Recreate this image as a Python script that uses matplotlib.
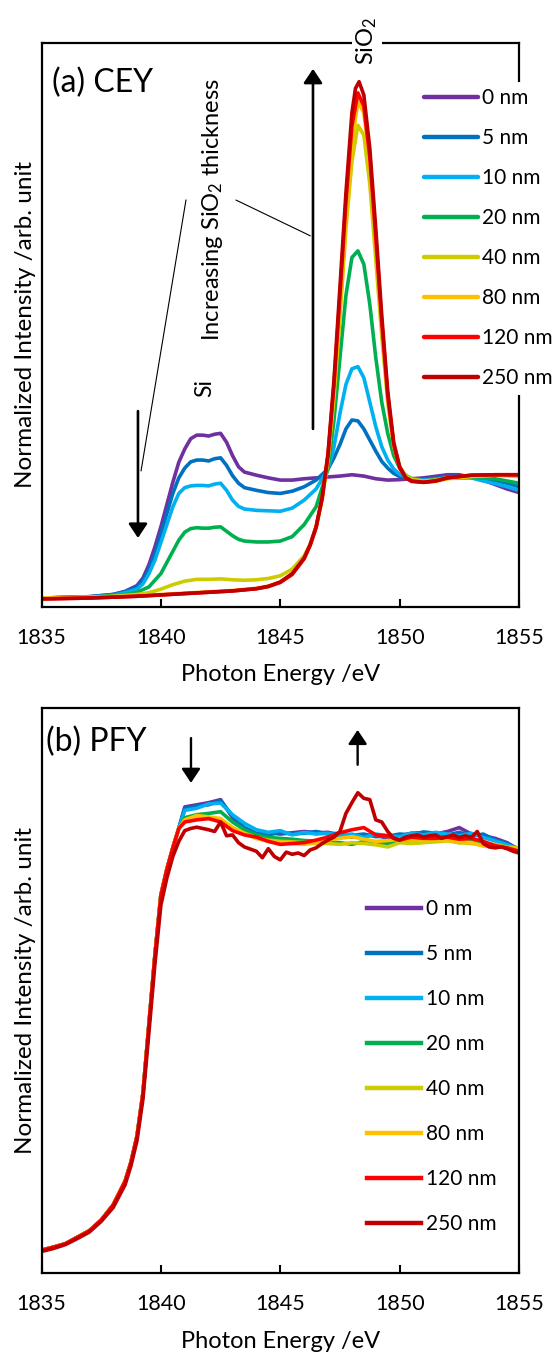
import numpy as np
import matplotlib
matplotlib.use("Agg")
import matplotlib.pyplot as plt

plt.rcParams["font.family"] = ["Lato", "DejaVu Sans"]
plt.rcParams["mathtext.fontset"] = "custom"
plt.rcParams["mathtext.rm"] = "Lato"
plt.rcParams["mathtext.it"] = "Lato:italic"

LABELS = ["0 nm", "5 nm", "10 nm", "20 nm", "40 nm", "80 nm", "120 nm", "250 nm"]
COLORS = ["#7030a0", "#0070c0", "#00b0f0", "#00b050", "#cccc00", "#ffc000", "#ff0000", "#c00000"]

XTICKS = [1835, 1840, 1845, 1850, 1855]

# ---- (a) CEY spectra: (energy, intensity) pairs per thickness ----
CEY_0 = [
    (1835, 0.020), (1837, 0.023), (1838, 0.028), (1838.5, 0.035), (1839, 0.048), (1839.25, 0.065),
    (1839.5, 0.095), (1839.75, 0.135), (1840, 0.180), (1840.25, 0.230), (1840.5, 0.280),
    (1840.75, 0.325), (1841, 0.355), (1841.25, 0.378), (1841.5, 0.386), (1841.75, 0.386),
    (1842, 0.384), (1842.25, 0.388), (1842.5, 0.390), (1842.75, 0.370), (1843, 0.340),
    (1843.25, 0.315), (1843.5, 0.303), (1844, 0.296), (1844.5, 0.290), (1845, 0.285),
    (1845.5, 0.285), (1846, 0.288), (1846.5, 0.290), (1847, 0.292), (1847.5, 0.294),
    (1848, 0.297), (1848.5, 0.294), (1849, 0.288), (1849.5, 0.285), (1850, 0.286),
    (1850.5, 0.288), (1851, 0.290), (1852, 0.297), (1852.5, 0.297), (1853, 0.291),
    (1853.5, 0.285), (1854, 0.275), (1854.5, 0.265), (1855, 0.257),
]
CEY_5 = [
    (1835, 0.020), (1837, 0.023), (1838, 0.028), (1838.5, 0.034), (1839, 0.045), (1839.25, 0.060),
    (1839.5, 0.085), (1839.75, 0.120), (1840, 0.165), (1840.25, 0.210), (1840.5, 0.255),
    (1840.75, 0.290), (1841, 0.312), (1841.25, 0.326), (1841.5, 0.330), (1841.75, 0.330),
    (1842, 0.328), (1842.25, 0.333), (1842.5, 0.335), (1842.75, 0.318), (1843, 0.295),
    (1843.25, 0.278), (1843.5, 0.268), (1844, 0.262), (1844.5, 0.257), (1845, 0.255),
    (1845.5, 0.260), (1846, 0.270), (1846.5, 0.285), (1847, 0.310), (1847.25, 0.335),
    (1847.5, 0.365), (1847.75, 0.400), (1848, 0.420), (1848.25, 0.418), (1848.5, 0.400),
    (1848.75, 0.375), (1849, 0.350), (1849.25, 0.327), (1849.5, 0.312), (1849.75, 0.300),
    (1850, 0.293), (1850.5, 0.287), (1851, 0.286), (1851.5, 0.289), (1852, 0.293),
    (1853, 0.293), (1853.5, 0.290), (1854, 0.284), (1854.5, 0.278), (1855, 0.270),
]
CEY_10 = [
    (1835, 0.020), (1837, 0.022), (1838, 0.026), (1838.5, 0.032), (1839, 0.040), (1839.25, 0.052),
    (1839.5, 0.075), (1839.75, 0.105), (1840, 0.145), (1840.25, 0.185), (1840.5, 0.225),
    (1840.75, 0.255), (1841, 0.268), (1841.25, 0.272), (1841.5, 0.273), (1841.75, 0.273),
    (1842, 0.272), (1842.25, 0.276), (1842.5, 0.278), (1842.75, 0.262), (1843, 0.240),
    (1843.25, 0.226), (1843.5, 0.220), (1844, 0.217), (1844.5, 0.216), (1845, 0.215),
    (1845.5, 0.222), (1846, 0.240), (1846.5, 0.265), (1847, 0.310), (1847.25, 0.360),
    (1847.5, 0.435), (1847.75, 0.500), (1848, 0.535), (1848.25, 0.540), (1848.5, 0.515),
    (1848.75, 0.460), (1849, 0.405), (1849.25, 0.360), (1849.5, 0.330), (1849.75, 0.310),
    (1850, 0.298), (1850.5, 0.288), (1851, 0.285), (1851.5, 0.287), (1852, 0.290),
    (1853, 0.290), (1853.5, 0.283), (1854, 0.277), (1854.5, 0.270), (1855, 0.262),
]
CEY_20 = [
    (1835, 0.020), (1837, 0.022), (1838, 0.025), (1838.5, 0.028), (1839, 0.033), (1839.5, 0.045),
    (1840, 0.075), (1840.25, 0.100), (1840.5, 0.125), (1840.75, 0.150), (1841, 0.168),
    (1841.25, 0.176), (1841.5, 0.178), (1841.75, 0.177), (1842, 0.177), (1842.25, 0.179),
    (1842.5, 0.180), (1842.75, 0.170), (1843, 0.160), (1843.25, 0.152), (1843.5, 0.148),
    (1844, 0.146), (1844.5, 0.146), (1845, 0.148), (1845.5, 0.158), (1846, 0.185),
    (1846.5, 0.225), (1847, 0.310), (1847.25, 0.420), (1847.5, 0.560), (1847.75, 0.700),
    (1848, 0.785), (1848.25, 0.800), (1848.5, 0.770), (1848.75, 0.680), (1849, 0.560),
    (1849.25, 0.460), (1849.5, 0.390), (1849.75, 0.340), (1850, 0.312), (1850.25, 0.296),
    (1850.5, 0.288), (1851, 0.283), (1851.5, 0.285), (1852, 0.290), (1853, 0.291),
    (1854, 0.288), (1854.5, 0.283), (1855, 0.278),
]
CEY_40 = [
    (1835, 0.020), (1837, 0.022), (1838, 0.024), (1839, 0.028), (1839.5, 0.032), (1840, 0.040),
    (1840.5, 0.050), (1841, 0.058), (1841.5, 0.062), (1842, 0.062), (1842.5, 0.063),
    (1843, 0.061), (1843.5, 0.060), (1844, 0.061), (1844.5, 0.064), (1845, 0.070),
    (1845.5, 0.085), (1846, 0.115), (1846.25, 0.140), (1846.5, 0.180), (1846.75, 0.240),
    (1847, 0.330), (1847.25, 0.470), (1847.5, 0.650), (1847.75, 0.850), (1848, 1.000),
    (1848.25, 1.082), (1848.5, 1.060), (1848.75, 0.950), (1849, 0.780), (1849.25, 0.610),
    (1849.5, 0.460), (1849.75, 0.360), (1850, 0.315), (1850.25, 0.295), (1850.5, 0.287),
    (1851, 0.283), (1851.5, 0.285), (1852, 0.290), (1853, 0.294), (1854, 0.296), (1855, 0.293),
]
CEY_80 = [
    (1835, 0.020), (1837, 0.021), (1838, 0.023), (1839, 0.025), (1840, 0.028), (1841, 0.031),
    (1842, 0.034), (1843, 0.037), (1844, 0.042), (1844.5, 0.047), (1845, 0.056),
    (1845.5, 0.075), (1846, 0.110), (1846.25, 0.140), (1846.5, 0.180), (1846.75, 0.245),
    (1847, 0.340), (1847.25, 0.490), (1847.5, 0.680), (1847.75, 0.880), (1848, 1.040),
    (1848.25, 1.135), (1848.5, 1.110), (1848.75, 1.000), (1849, 0.820), (1849.25, 0.630),
    (1849.5, 0.470), (1849.75, 0.365), (1850, 0.315), (1850.25, 0.292), (1850.5, 0.283),
    (1851, 0.280), (1851.5, 0.282), (1852, 0.288), (1853, 0.293), (1854, 0.296), (1855, 0.296),
]
CEY_120 = [
    (1835, 0.018), (1837, 0.020), (1838, 0.022), (1839, 0.024), (1840, 0.027), (1841, 0.030),
    (1842, 0.033), (1843, 0.036), (1844, 0.041), (1844.5, 0.046), (1845, 0.055),
    (1845.5, 0.073), (1846, 0.108), (1846.25, 0.138), (1846.5, 0.178), (1846.75, 0.243),
    (1847, 0.340), (1847.25, 0.500), (1847.5, 0.700), (1847.75, 0.910), (1848, 1.080),
    (1848.25, 1.155), (1848.5, 1.125), (1848.75, 1.010), (1849, 0.830), (1849.25, 0.640),
    (1849.5, 0.475), (1849.75, 0.365), (1850, 0.312), (1850.25, 0.290), (1850.5, 0.282),
    (1851, 0.280), (1851.5, 0.283), (1852, 0.290), (1853, 0.296), (1854, 0.297), (1855, 0.297),
]
CEY_250 = [
    (1835, 0.018), (1837, 0.020), (1838, 0.022), (1839, 0.024), (1840, 0.027), (1841, 0.030),
    (1842, 0.033), (1843, 0.036), (1844, 0.041), (1844.5, 0.046), (1845, 0.056),
    (1845.5, 0.075), (1846, 0.110), (1846.25, 0.140), (1846.5, 0.180), (1846.75, 0.245),
    (1847, 0.345), (1847.25, 0.510), (1847.5, 0.720), (1847.75, 0.930), (1848, 1.110),
    (1848.15, 1.165), (1848.3, 1.180), (1848.5, 1.150), (1848.75, 1.030), (1849, 0.850),
    (1849.25, 0.655), (1849.5, 0.485), (1849.75, 0.370), (1850, 0.315), (1850.25, 0.291),
    (1850.5, 0.283), (1851, 0.280), (1851.5, 0.283), (1852, 0.290), (1853, 0.296),
    (1854, 0.297), (1855, 0.297),
]
CEY = [CEY_0, CEY_5, CEY_10, CEY_20, CEY_40, CEY_80, CEY_120, CEY_250]

# ---- (b) PFY spectra: shared absorption edge, then per-thickness tails ----
PFY_EDGE_X = [1835, 1835.5, 1836, 1836.5, 1837, 1837.5, 1838, 1838.5, 1838.75, 1839,
              1839.25, 1839.5, 1839.75, 1840, 1840.25, 1840.5, 1840.75]
PFY_EDGE = [0.053, 0.060, 0.068, 0.083, 0.098, 0.123, 0.158, 0.213, 0.258, 0.318,
            0.418, 0.578, 0.738, 0.878, 0.938, 0.988, 1.033]
PFY_EDGE_250 = [0.050, 0.057, 0.066, 0.080, 0.095, 0.120, 0.152, 0.205, 0.250, 0.308,
                0.405, 0.560, 0.718, 0.855, 0.918, 0.968, 1.003]

PFY_TAIL_X = np.arange(1841, 1855.01, 0.5)
PFY_0 = [1.083, 1.088, 1.093, 1.100, 1.058, 1.033, 1.020, 1.023, 1.020, 1.023, 1.026, 1.023,
         1.024, 1.018, 1.013, 1.016, 1.018, 1.010, 1.016, 1.022, 1.023, 1.020, 1.026, 1.035,
         1.020, 1.016, 1.010, 1.000, 0.983]
PFY_5 = [1.080, 1.085, 1.088, 1.098, 1.062, 1.035, 1.022, 1.018, 1.024, 1.020, 1.022, 1.026,
         1.020, 1.022, 1.017, 1.020, 1.014, 1.015, 1.020, 1.018, 1.025, 1.022, 1.018, 1.024,
         1.015, 1.020, 1.006, 0.998, 0.985]
PFY_10 = [1.075, 1.080, 1.090, 1.092, 1.065, 1.045, 1.030, 1.024, 1.028, 1.018, 1.024, 1.020,
          1.022, 1.016, 1.020, 1.012, 1.020, 1.016, 1.014, 1.022, 1.018, 1.024, 1.020, 1.016,
          1.022, 1.012, 1.004, 0.995, 0.985]
PFY_20 = [1.058, 1.065, 1.068, 1.072, 1.048, 1.030, 1.018, 1.012, 1.010, 1.008, 1.005, 1.004,
          1.000, 1.000, 0.996, 1.003, 1.000, 0.998, 1.002, 1.005, 1.006, 1.004, 1.008, 1.000,
          1.006, 0.998, 0.995, 0.990, 0.983]
PFY_40 = [1.050, 1.060, 1.056, 1.053, 1.035, 1.022, 1.012, 1.006, 1.003, 1.002, 1.000, 0.998,
          0.998, 0.996, 1.000, 0.998, 0.995, 0.990, 1.000, 0.998, 1.000, 1.002, 1.004, 1.000,
          0.998, 0.994, 0.996, 0.990, 0.988]
PFY_80 = [1.053, 1.063, 1.060, 1.056, 1.035, 1.020, 1.010, 1.003, 1.000, 0.998, 0.996, 1.000,
          1.006, 1.010, 1.014, 1.008, 1.003, 1.005, 1.008, 1.006, 1.006, 1.008, 1.005, 1.003,
          1.000, 0.992, 0.993, 0.988, 0.985]
PFY_120 = [1.048, 1.053, 1.056, 1.048, 1.028, 1.018, 1.013, 1.003, 0.996, 0.998, 1.000, 1.006,
           1.013, 1.023, 1.030, 1.035, 1.018, 1.016, 1.006, 1.013, 1.010, 1.010, 1.013, 1.008,
           1.010, 1.003, 0.993, 0.988, 0.980]

# 250 nm is sampled finer (0.25 eV) to keep the SiO2 bump and noise
PFY_TAIL_X_250 = np.arange(1841, 1855.01, 0.25)
PFY_250 = [1.028, 1.033, 1.036, 1.033, 1.030, 1.026, 1.048, 1.016, 1.018, 1.000, 0.990, 0.985,
           0.980, 0.965, 0.986, 0.968, 0.960, 0.978, 0.973, 0.976, 0.970, 0.983, 0.988, 0.998,
           1.006, 1.013, 1.026, 1.068, 1.093, 1.116, 1.103, 1.100, 1.053, 1.048, 1.026, 1.010,
           1.006, 1.013, 1.016, 1.018, 1.013, 1.016, 1.018, 1.010, 1.014, 1.018, 1.012, 1.016,
           1.012, 1.026, 0.998, 0.990, 0.988, 0.990, 0.986, 0.980, 0.976]

PFY_TAILS = [PFY_0, PFY_5, PFY_10, PFY_20, PFY_40, PFY_80, PFY_120, PFY_250]


def style_axes(ax, ymax):
    ax.set_xlim(1835, 1855)
    ax.set_ylim(0, ymax)
    ax.set_xticks(XTICKS)
    ax.set_xticklabels([str(t) for t in XTICKS], fontsize=15.5)
    ax.set_yticks([])
    ax.tick_params(axis="x", direction="in", length=6, width=1.5, pad=15)
    for sp in ax.spines.values():
        sp.set_linewidth(1.6)
    ax.set_xlabel("Photon Energy /eV", fontsize=17, labelpad=12)
    ax.set_ylabel("Normalized Intensity /arb. unit", fontsize=17.5, labelpad=4)


def arrow(ax, tail, tip, lw=1.9):
    ax.annotate("", xy=tip, xytext=tail,
                arrowprops=dict(arrowstyle="-|>,head_length=0.45,head_width=0.3",
                                mutation_scale=19, lw=lw, color="black",
                                shrinkA=0, shrinkB=0))


fig = plt.figure(figsize=(5.55, 13.56), dpi=100)
ax1 = fig.add_axes([0.0748, 0.5524, 0.8604, 0.4159])
ax2 = fig.add_axes([0.0748, 0.0612, 0.8604, 0.4167])

# (a) CEY
for pts, color, label in zip(CEY, COLORS, LABELS):
    xs = [p[0] for p in pts]
    ys = [p[1] for p in pts]
    ax1.plot(xs, ys, color=color, lw=2.6, label=label, solid_capstyle="round")
style_axes(ax1, 1.267)

ax1.text(1835.45, 1.177, "(a) CEY", fontsize=23, ha="left", va="center")
ax1.text(1841.85, 0.492, "Si", fontsize=16.5, rotation=90, ha="center", va="center")
ax1.text(1842.18, 0.894, "Increasing SiO$_2$ thickness", fontsize=17, rotation=90,
         ha="center", va="center")
ax1.text(1848.63, 1.272, "SiO$_2$", fontsize=17, rotation=90, ha="center", va="center",
         bbox=dict(facecolor="white", edgecolor="none", pad=2), zorder=6, clip_on=False)
arrow(ax1, (1839.04, 0.440), (1839.04, 0.155))
arrow(ax1, (1846.37, 0.400), (1846.37, 1.209))
ax1.plot([1841.05, 1839.17], [0.914, 0.306], color="black", lw=0.8)
ax1.plot([1843.15, 1846.25], [0.914, 0.834], color="black", lw=0.8)

leg1 = ax1.legend(loc="upper left", bbox_to_anchor=(0.788, 0.9305), fontsize=15,
                  frameon=True, handlelength=2.6, handletextpad=0.2, labelspacing=0.96,
                  borderpad=0.3, borderaxespad=0)
leg1.get_frame().set_facecolor("white")
leg1.get_frame().set_edgecolor("none")
leg1.get_frame().set_alpha(1)
for h in leg1.get_lines():
    h.set_linewidth(3.2)

# (b) PFY
tail_x = [PFY_TAIL_X] * 7 + [PFY_TAIL_X_250]
edges = [PFY_EDGE] * 7 + [PFY_EDGE_250]
for tx, edge, tail, color, label in zip(tail_x, edges, PFY_TAILS, COLORS, LABELS):
    xs = list(PFY_EDGE_X) + list(tx)
    ys = list(edge) + list(tail)
    ax2.plot(xs, ys, color=color, lw=2.6, label=label)
style_axes(ax2, 1.313)

ax2.text(1835.19, 1.234, "(b) PFY", fontsize=23, ha="left", va="center")
arrow(ax2, (1841.26, 1.243), (1841.26, 1.139), lw=1.7)
arrow(ax2, (1848.24, 1.181), (1848.24, 1.262), lw=1.7)

leg2 = ax2.legend(loc="upper left", bbox_to_anchor=(0.682, 0.662), fontsize=15,
                  frameon=False, handlelength=2.6, handletextpad=0.2, labelspacing=1.20,
                  borderpad=0, borderaxespad=0)
for h in leg2.get_lines():
    h.set_linewidth(3.2)

fig.savefig("out.png", dpi=100)
